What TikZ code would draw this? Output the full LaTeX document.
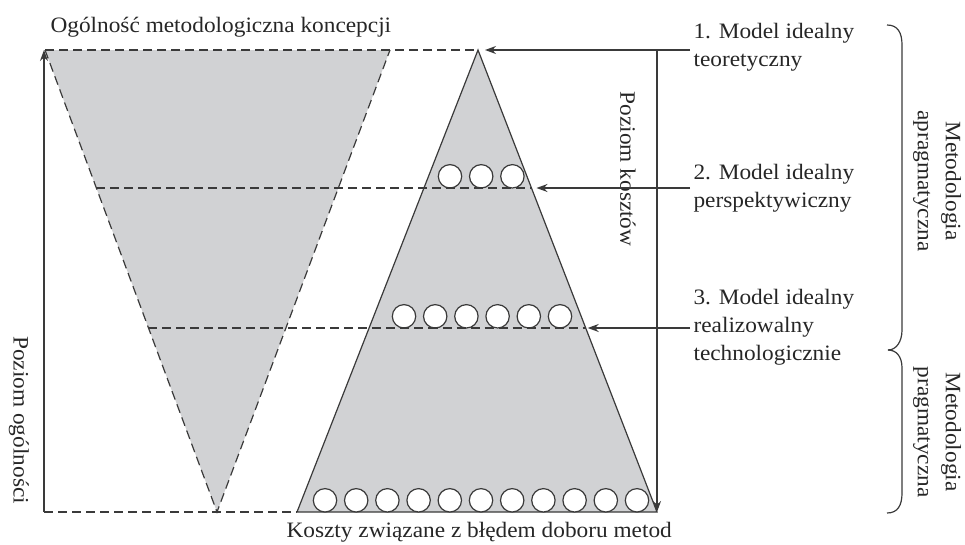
\documentclass[tikz,border=0pt]{standalone}
\usepackage{fontspec}
\setmainfont{Liberation Serif}[FakeStretch=1.06]
\usetikzlibrary{calc,arrows.meta}

\definecolor{areagray}{HTML}{D1D2D4}
\definecolor{ink}{HTML}{3A3A3A}

\tikzset{
	line/.style={line width=1.2pt, draw=ink},
	dashline/.style={line width=1.2pt, draw=ink, dash pattern=on 9pt off 5pt},
	arr/.style={line, -{Stealth[length=11pt,width=8pt]}},
	ball/.style={line width=1.2pt, draw=ink, fill=white},
	lbl/.style={text=black!85}
}

\begin{document}
\begin{tikzpicture}[x=1pt, y=-1pt, font=\fontsize{22}{28}\selectfont]
			%%%%% START %%%%%
			\useasboundingbox (0,0) rectangle (965,544);
			
			\coordinate (ftl) at (45,50);
			\coordinate (ftr) at (390,50);
			\coordinate (fbot) at (217,512);
			\coordinate (apex) at (478,50);
			\coordinate (pbl) at (297,512);
			\coordinate (pbr) at (657,512);
			
			% levels on both shapes
			\coordinate (lvlAL) at ($(ftl)!0.2987!(fbot)$);
			\coordinate (lvlAR) at ($(apex)!0.2987!(pbr)$);
			\coordinate (lvlBL) at ($(ftl)!0.6017!(fbot)$);
			\coordinate (lvlBR) at ($(apex)!0.6017!(pbr)$);
			
			% funnel of generality
			\fill[areagray] (ftl) -- (ftr) -- (fbot) -- cycle;
			\draw[dashline] (ftl) -- (fbot) -- (ftr);
			
			% pyramid of costs
			\fill[areagray] (apex) -- (pbr) -- (pbl) -- cycle;
			\draw[line] (pbl) -- (apex) -- (pbr) -- cycle;
			
			\foreach \i in {0,...,2}
				\draw[ball] (450+31.2*\i, 176.3) circle (11.7);
			\foreach \i in {0,...,5}
				\draw[ball] (404+31.2*\i, 316.3) circle (11.7);
			\foreach \i in {0,...,10}
				\draw[ball] (325+31.2*\i, 500.3) circle (11.7);
			
			\draw[dashline] (ftl) -- (apex);
			\draw[dashline] (lvlAL) -- (lvlAR);
			\draw[dashline] (lvlBL) -- (lvlBR);
			
			% axes
			\coordinate (gbot) at (44,512);
			\coordinate (gtop) at (44,50);
			\coordinate (ctop) at (657,50);
			\coordinate (cbot) at (657,512);
			\draw[dashline] (gbot) -- (pbl);
			\draw[arr] (gbot) -- (gtop);
			\draw[arr] (ctop) -- (cbot);
			
			\node[lbl, anchor=base west] (title) at (47,32) {Ogólność metodologiczna koncepcji};
			\node[lbl, anchor=base west] (costs) at (283,537) {Koszty związane z błędem doboru metod};
			\node[lbl, rotate=-90] (genlvl) at (19,420) {Poziom ogólności};
			\node[lbl, rotate=-90] (costlvl) at (628,169) {Poziom kosztów};
			
			% models
			\node[lbl, anchor=north west, align=left] (mA) at (690,20) {1. Model idealny\\teoretyczny};
			\node[lbl, anchor=north west, align=left] (mB) at (690,161) {2. Model idealny\\perspektywiczny};
			\node[lbl, anchor=north west, align=left] (mC) at (690,286) {3. Model idealny\\realizowalny\\technologicznie};
			
			\draw[arr] (mA.west |- apex) -- ([xshift=7pt]apex);
			\draw[arr] (mB.west |- lvlAR) -- ([xshift=5pt]lvlAR);
			\draw[arr] (mC.west |- lvlBR) -- ([xshift=2pt]lvlBR);
			
			% brackets
			\draw[line] (887,25) .. controls (898,25) and (902,33) .. (902,45) -- (902,330)
				.. controls (902,342) and (896,350) .. (888,350);
			\draw[line] (888,350) .. controls (896,350) and (902,356) .. (902,368) -- (902,493)
				.. controls (902,505) and (898,513) .. (887,513);
			
			\node[lbl, rotate=-90, align=center] (apragm) at (937,181) {Metodologia\\apragmatyczna};
			\node[lbl, rotate=-90, align=center] (pragm) at (937,432) {Metodologia\\pragmatyczna};
			%%%%% END %%%%%
\end{tikzpicture}
\end{document}
